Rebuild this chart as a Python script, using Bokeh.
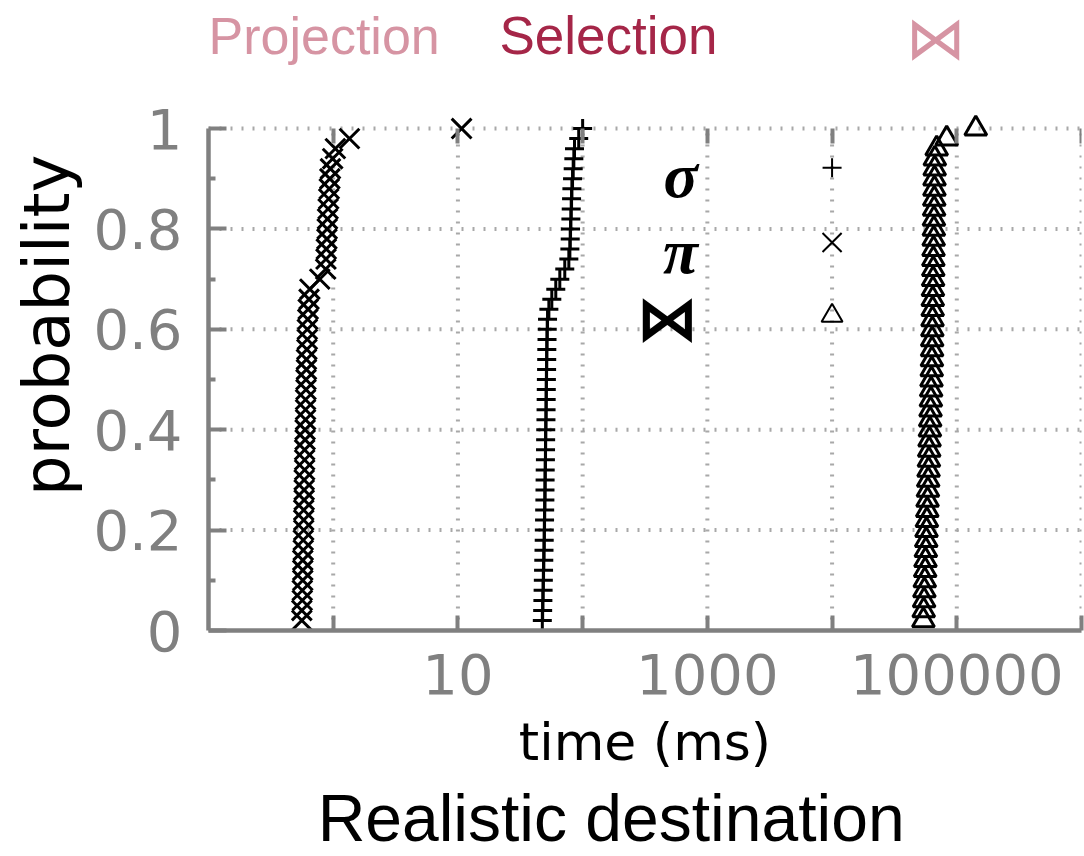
from bokeh.plotting import figure
from bokeh.layouts import column
from bokeh.models import (FixedTicker, LogAxis, CustomJSTickFormatter, Label,
                          Range1d, ColumnDataSource, Title)
from bokeh.embed import file_html
from bokeh.resources import INLINE

# Sorted query times (ms) for the realistic destination workload
projection_ms = [0.56, 0.56, 0.565, 0.565, 0.57, 0.57, 0.57, 0.575, 0.575, 0.58,
                 0.58, 0.58, 0.585, 0.585, 0.585, 0.59, 0.59, 0.59, 0.595, 0.595,
                 0.60, 0.60, 0.60, 0.605, 0.605, 0.61, 0.61, 0.615, 0.62, 0.62,
                 0.625, 0.63, 0.64, 0.65, 0.78, 0.87, 0.875, 0.88, 0.89, 0.895,
                 0.90, 0.91, 0.92, 0.93, 0.94, 0.95, 0.99, 1.04, 1.35, 10.7]
selection_ms = [47.5, 47.8, 48.0, 48.2, 48.4, 48.6, 48.8, 49.0, 49.2, 49.3,
                49.5, 49.6, 49.8, 49.9, 50.0, 50.1, 50.3, 50.4, 50.5, 50.6,
                50.8, 50.9, 51.0, 51.1, 51.2, 51.4, 51.5, 51.6, 51.8, 52.0,
                52.3, 53.6, 56.6, 60.9, 65.6, 71.9, 77.5, 79.0, 79.5, 80.0,
                80.5, 81.0, 81.5, 82.0, 83.0, 84.0, 85.0, 86.0, 93.0, 100.0]
join_ms = [54000, 54300, 54700, 55000, 55400, 55800, 56100, 56500, 56900, 57200,
           57600, 58000, 58300, 58700, 59000, 59400, 59800, 60100, 60500, 60900,
           61200, 61600, 62000, 62300, 62700, 63000, 63200, 63400, 63500, 63700,
           63900, 64100, 64200, 64400, 64600, 64800, 64900, 65100, 65300, 65500,
           65600, 65800, 66000, 66200, 66300, 66500, 66700, 69000, 83000, 142000]

x_min, x_max = 0.1, 1e6
x_ticks = [1, 10, 100, 1000, 10000, 100000, 1000000]
x_labels_shown = [10, 1000, 100000]
y_ticks = [0, 0.2, 0.4, 0.6, 0.8, 1.0]
y_minor_ticks = [0.1, 0.3, 0.5, 0.7, 0.9]

legend_symbols = ["\u03c3", "\u03c0", "\u22c8"]
legend_markers = ["cross", "x", "triangle"]
legend_sizes = [19, 27, 21]
legend_y = [0.922, 0.773, 0.627]
legend_text_y = [0.906, 0.755, 0.621]

AXIS_GREY = "#808080"
GRID_GREY = "#a8a8a8"
PINK = "#d694a3"
WINE = "#a52648"

W = 1084
LEFT, RIGHT = 205, 3
HEADER_H = 92
FOOTER_H = 80
MAIN_H = 856 - HEADER_H - FOOTER_H


def cdf(values):
    n = len(values)
    return [(i + 1) / n for i in range(n)]


def blank_strip(height):
    # x and y in page pixels, measured from the strip's own top-left corner
    f = figure(width=W, height=height, title=None,
               x_range=Range1d(LEFT, W - RIGHT), y_range=Range1d(height, 0),
               output_backend="svg", toolbar_location=None,
               x_axis_location=None, y_axis_location=None,
               min_border_left=LEFT, min_border_right=RIGHT,
               min_border_top=0, min_border_bottom=0)
    f.outline_line_color = None
    f.xgrid.visible = False
    f.ygrid.visible = False
    return f


# ---- header row naming the operators ----
header = blank_strip(HEADER_H)
header.add_layout(Label(x=205, y=35, text="Projection", text_align="left",
                        text_baseline="middle", text_font="Liberation Sans",
                        text_font_size="52px", text_color=PINK))
header.add_layout(Label(x=497, y=35, text="Selection", text_align="left",
                        text_baseline="middle", text_font="Liberation Sans",
                        text_font_size="53px", text_color=WINE))
header.add_layout(Label(x=935, y=37, text="\u22c8", text_align="center",
                        text_baseline="middle", text_font="DejaVu Sans",
                        text_font_size="60px", text_color=PINK))

# ---- main CDF plot ----
p = figure(width=W, height=MAIN_H, x_axis_type="log",
           x_range=Range1d(x_min, x_max), y_range=Range1d(0, 1.04),
           output_backend="svg", toolbar_location=None,
           min_border_left=LEFT, min_border_right=RIGHT,
           min_border_top=108 - HEADER_H, min_border_bottom=MAIN_H - (630 - HEADER_H))
p.outline_line_color = None
p.xgrid.visible = False
p.ygrid.visible = False

decades = FixedTicker(ticks=x_ticks)

xa = p.xaxis[0]
xa.ticker = decades
xa.formatter = CustomJSTickFormatter(args=dict(shown=x_labels_shown),
                                     code="return shown.includes(tick) ? String(tick) : ''")
xa.axis_line_color = AXIS_GREY
xa.axis_line_width = 4.5
xa.major_tick_line_color = AXIS_GREY
xa.major_tick_line_width = 4
xa.major_tick_in = 15
xa.major_tick_out = 0
xa.minor_tick_line_color = None
xa.major_label_text_font = "DejaVu Sans"
xa.major_label_text_font_size = "56px"
xa.major_label_text_color = AXIS_GREY
xa.major_label_standoff = 23
xa.axis_label = "time (ms)"
xa.axis_label_text_font = "DejaVu Sans"
xa.axis_label_text_font_size = "52px"
xa.axis_label_text_font_style = "normal"
xa.axis_label_text_color = "black"
xa.axis_label_standoff = 15

ya = p.yaxis[0]
ya.bounds = (0, 1)
ya.ticker = FixedTicker(ticks=y_ticks, minor_ticks=y_minor_ticks)
ya.formatter = CustomJSTickFormatter(code="return String(Math.round(tick * 10) / 10)")
ya.axis_line_color = AXIS_GREY
ya.axis_line_width = 4.5
ya.major_tick_line_color = AXIS_GREY
ya.major_tick_line_width = 4
ya.major_tick_in = 18
ya.major_tick_out = 0
ya.minor_tick_line_color = AXIS_GREY
ya.minor_tick_line_width = 4
ya.minor_tick_in = 7
ya.minor_tick_out = 0
ya.major_label_text_font = "DejaVu Sans"
ya.major_label_text_font_size = "56px"
ya.major_label_text_color = AXIS_GREY
ya.major_label_standoff = 26

p.add_layout(Title(text="probability", align="right", offset=46, standoff=14,
                   text_font="DejaVu Sans", text_font_size="64px",
                   text_font_style="normal", text_color="black"), "left")

# mirrored decade ticks hanging from the top of the data area
top = LogAxis(ticker=decades, fixed_location=1.0, axis_line_color=None,
              major_tick_line_color=AXIS_GREY, major_tick_line_width=4,
              major_tick_in=15, major_tick_out=0, minor_tick_line_color=None,
              major_label_text_font_size="0px", major_label_standoff=0,
              formatter=CustomJSTickFormatter(code="return ''"))
p.add_layout(top, "above")

# dotted grid, limited to the data area
p.segment(x0=x_ticks, y0=[0] * len(x_ticks), x1=x_ticks, y1=[1] * len(x_ticks),
          line_color=GRID_GREY, line_width=4, line_dash="2 9")
p.segment(x0=[x_min] * 5, y0=y_ticks[1:], x1=[x_max] * 5, y1=y_ticks[1:],
          line_color=GRID_GREY, line_width=4, line_dash="2 9")

# CDF series
series = [
    (projection_ms, "x", 28),
    (selection_ms, "cross", 19),
    (join_ms, "triangle", 22),
]
for times, marker, size in series:
    src = ColumnDataSource(dict(t=times, prob=cdf(times)))
    p.scatter("t", "prob", source=src, marker=marker, size=size,
              line_color="black", line_width=3, fill_alpha=0)

# key inside the plot
key_src = ColumnDataSource(dict(x=[10000] * 3, y=legend_y, m=legend_markers, s=legend_sizes))
p.scatter("x", "y", source=key_src, marker="m", size="s",
          line_color="black", line_width=2, fill_alpha=0)
for sym, ty in zip(legend_symbols, legend_text_y):
    is_join = sym == "\u22c8"
    p.add_layout(Label(x=840, y=ty, text=sym, text_align="right",
                       text_baseline="middle",
                       text_font="DejaVu Sans" if is_join else "Liberation Serif",
                       text_font_style="bold" if is_join else "bold italic",
                       text_font_size="62px" if is_join else "64px",
                       text_color="black"))

# ---- caption ----
footer = blank_strip(FOOTER_H)
footer.add_layout(Label(x=609, y=41, text="Realistic destination", text_align="center",
                        text_baseline="middle", text_line_height=1.0,
                        text_font="Liberation Sans",
                        text_font_size="66px", text_color="black"))

page = column(header, p, footer, spacing=0)
open("out.html", "w").write(file_html(page, INLINE))
